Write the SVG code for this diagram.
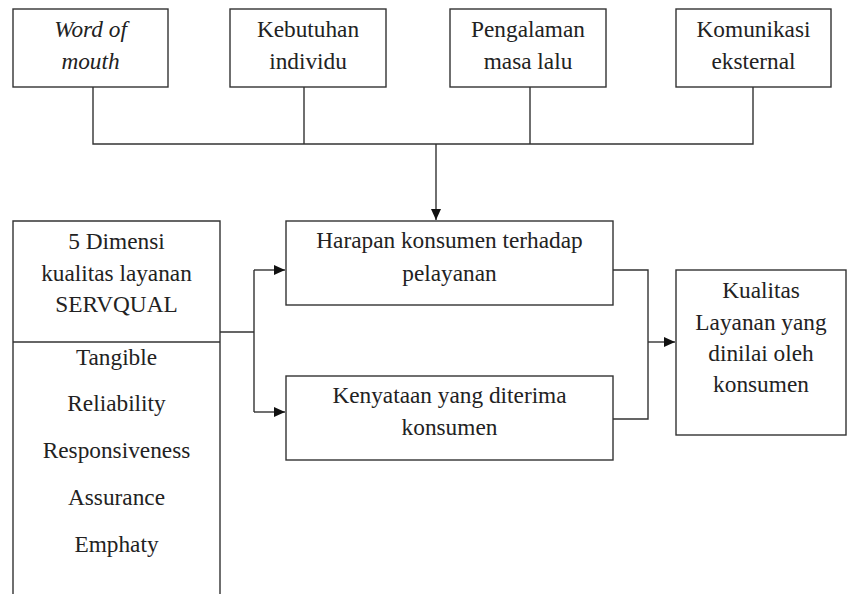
<svg xmlns="http://www.w3.org/2000/svg" width="848" height="594" viewBox="0 0 848 594">
<style>
.box{fill:#fff;stroke:#333;stroke-width:1.4}
.ln{fill:none;stroke:#333;stroke-width:1.4}
text{font-family:"Liberation Serif","Times New Roman",serif;font-size:23.3px;fill:#222;text-anchor:middle}
.it{font-style:italic}
</style>
<defs>
<marker id="ah" viewBox="0 0 11 10" refX="11" refY="5" markerWidth="11" markerHeight="10" markerUnits="userSpaceOnUse" orient="auto">
<path d="M0,0 L11,5 L0,10 z" fill="#111"/>
</marker>
</defs>
<rect width="848" height="594" fill="#fff"/>
<g id="connectors">
<path class="ln" d="M93,87 V144 H753 V87 M304,87 V144 M530,87 V144"/>
<path class="ln" d="M436,144 V220" marker-end="url(#ah)"/>
<path class="ln" d="M220,332 H254 M254,270 V412"/>
<path class="ln" d="M254,270 H285" marker-end="url(#ah)"/>
<path class="ln" d="M254,412 H285" marker-end="url(#ah)"/>
<path class="ln" d="M613,270 H648 V419 H613"/>
<path class="ln" d="M648,342 H675" marker-end="url(#ah)"/>
</g>
<g id="word-of-mouth">
<rect class="box" x="13" y="9" width="155" height="78"/>
<text class="it" x="90.5" y="37">Word of</text>
<text class="it" x="90.5" y="69">mouth</text>
</g>
<g id="kebutuhan">
<rect class="box" x="230" y="9" width="156" height="78"/>
<text x="308" y="37">Kebutuhan</text>
<text x="308" y="69">individu</text>
</g>
<g id="pengalaman">
<rect class="box" x="450" y="9" width="156" height="78"/>
<text x="528" y="37">Pengalaman</text>
<text x="528" y="69">masa lalu</text>
</g>
<g id="komunikasi">
<rect class="box" x="676" y="9" width="155" height="78"/>
<text x="753.5" y="37">Komunikasi</text>
<text x="753.5" y="69">eksternal</text>
</g>
<g id="servqual">
<path class="box" d="M13,600 V221 H220 V600"/>
<path class="ln" d="M13,342 H220"/>
<text x="116.5" y="249">5 Dimensi</text>
<text x="116.5" y="281">kualitas layanan</text>
<text x="116.5" y="312">SERVQUAL</text>
<text x="116.5" y="365">Tangible</text>
<text x="116.5" y="411">Reliability</text>
<text x="116.5" y="458">Responsiveness</text>
<text x="116.5" y="505">Assurance</text>
<text x="116.5" y="552">Emphaty</text>
</g>
<g id="harapan">
<rect class="box" x="286" y="221" width="327" height="84"/>
<text x="449.5" y="248">Harapan konsumen terhadap</text>
<text x="449.5" y="281">pelayanan</text>
</g>
<g id="kenyataan">
<rect class="box" x="286" y="376" width="327" height="84"/>
<text x="449.5" y="403">Kenyataan yang diterima</text>
<text x="449.5" y="435">konsumen</text>
</g>
<g id="kualitas">
<rect class="box" x="676" y="270" width="170" height="165"/>
<text x="761" y="298">Kualitas</text>
<text x="761" y="330">Layanan yang</text>
<text x="761" y="361">dinilai oleh</text>
<text x="761" y="392">konsumen</text>
</g>
</svg>
